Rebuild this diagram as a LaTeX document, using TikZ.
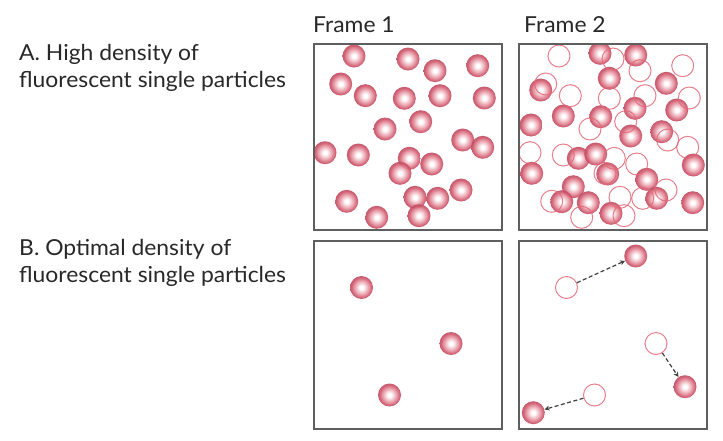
\documentclass[tikz,border=0pt]{standalone}
\usepackage{fontspec}
\setmainfont{Lato}[FakeStretch=1.04]
\usetikzlibrary{arrows.meta}
\definecolor{pedge}{RGB}{206,82,104}
\definecolor{pmid}{RGB}{234,160,172}
\definecolor{ringcol}{RGB}{228,105,120}
\definecolor{framecol}{RGB}{95,95,95}
\definecolor{txt}{RGB}{40,40,40}
\pgfdeclareradialshading{particle}{\pgfpoint{0bp}{0bp}}{color(0bp)=(white); color(4bp)=(white); color(14bp)=(pmid); color(22bp)=(pedge); color(25bp)=(pedge!92!black); color(50bp)=(pedge!92!black)}
\begin{document}
\begin{tikzpicture}[x=1pt,y=-1pt,
  ball/.style={circle, minimum size=23pt, inner sep=0pt, shading=particle, fill opacity=0.9},
  ring/.style={circle, minimum size=22pt, inner sep=0pt, draw=ringcol, line width=1pt, draw opacity=0.85},
  framebox/.style={draw=framecol, line width=1.6pt},
  lbl/.style={font=\fontsize{22}{26}\selectfont, text=txt, inner sep=0pt, anchor=base west},
  move/.style={draw=black!75, dashed, dash pattern=on 4pt off 2.5pt, line width=1.2pt, -{Stealth[length=5pt,width=5pt]}}
]
\useasboundingbox (0,0) rectangle (723,440);
\fill[white] (0,0) rectangle (723,440);

% labels
\node[lbl] (fr1) at (313,32) {Frame 1};
\node[lbl] (fr2) at (524,32) {Frame 2};
\node[lbl] (la1) at (19,60) {A. High density of};
\node[lbl] (la2) at (19,87.5) {fluorescent single particles};
\node[lbl] (lb1) at (19,255) {B. Optimal density of};
\node[lbl] (lb2) at (19,282.5) {fluorescent single particles};

% Frame 1 top
\begin{scope}
\clip (313,43) rectangle (501,229);
\foreach \x/\y [count=\i] in {354/56,408/59,435/70.7,477.7/65.7,340.7/84,365.3/95.7,404.3/98.3,440/95.7,484.3/98,385/129,420.7/121.7,325/152.7,358.3/155,462.7/140,482.7/147.3,409.3/158.3,400/173.3,431.7/164,461/190,346.7/201.3,415/197.3,437.7/198.3,419/215.7,376.7/217.3}
  \node[ball] (a\i) at (\x,\y) {};
\end{scope}
\node[framebox, minimum width=188pt, minimum height=186pt, inner sep=0pt, anchor=north west] (box1) at (313,43) {};

% Frame 2 top
\begin{scope}
\clip (518,43) rectangle (706,229);
\foreach \x/\y [count=\i] in {600/53.3,635.7/55,609.3/78.3,540.7/90,666.3/83.3,635/108.3,676.7/110,563.3/116,600.7/116.7,531/125,630.7/136,661.7/131.7,578.3/158.3,595.7/154,531.7/173.3,607.7/174,693.3/165,646.7/179.3,573.3/186.7,656.7/198.3,561.7/201.7,588.3/202.7,611/213.3,692.7/202.7}
  \node[ball] (b\i) at (\x,\y) {};
\foreach \x/\y [count=\i] in {354/56,408/59,435/70.7,477.7/65.7,340.7/84,365.3/95.7,404.3/98.3,440/95.7,484.3/98,385/129,420.7/121.7,325/152.7,358.3/155,462.7/140,482.7/147.3,409.3/158.3,400/173.3,431.7/164,461/190,346.7/201.3,415/197.3,437.7/198.3,419/215.7,376.7/217.3}
  \node[ring] (r\i) at (\x+205,\y) {};
\end{scope}
\node[framebox, minimum width=188pt, minimum height=186pt, inner sep=0pt, anchor=north west] (box2) at (518,43) {};

% Frame 1 bottom
\node[framebox, minimum width=188pt, minimum height=188pt, inner sep=0pt, anchor=north west] (box3) at (313,240) {};
\node[ball] (c1) at (361.5,287.5) {};
\node[ball] (c2) at (451,343.5) {};
\node[ball] (c3) at (389.5,395) {};

% Frame 2 bottom
\node[framebox, minimum width=188pt, minimum height=188pt, inner sep=0pt, anchor=north west] (box4) at (518,240) {};
\node[ring] (o1) at (566.5,287.5) {};
\node[ring] (o2) at (656,343.5) {};
\node[ring] (o3) at (594.5,395) {};
\node[ball] (d1) at (635.7,256) {};
\node[ball] (d2) at (685,386.7) {};
\node[ball] (d3) at (533.3,412.7) {};
\draw[move] (o1) -- (d1);
\draw[move] (o2) -- (d2);
\draw[move] (o3) -- (d3);
\end{tikzpicture}
\end{document}
